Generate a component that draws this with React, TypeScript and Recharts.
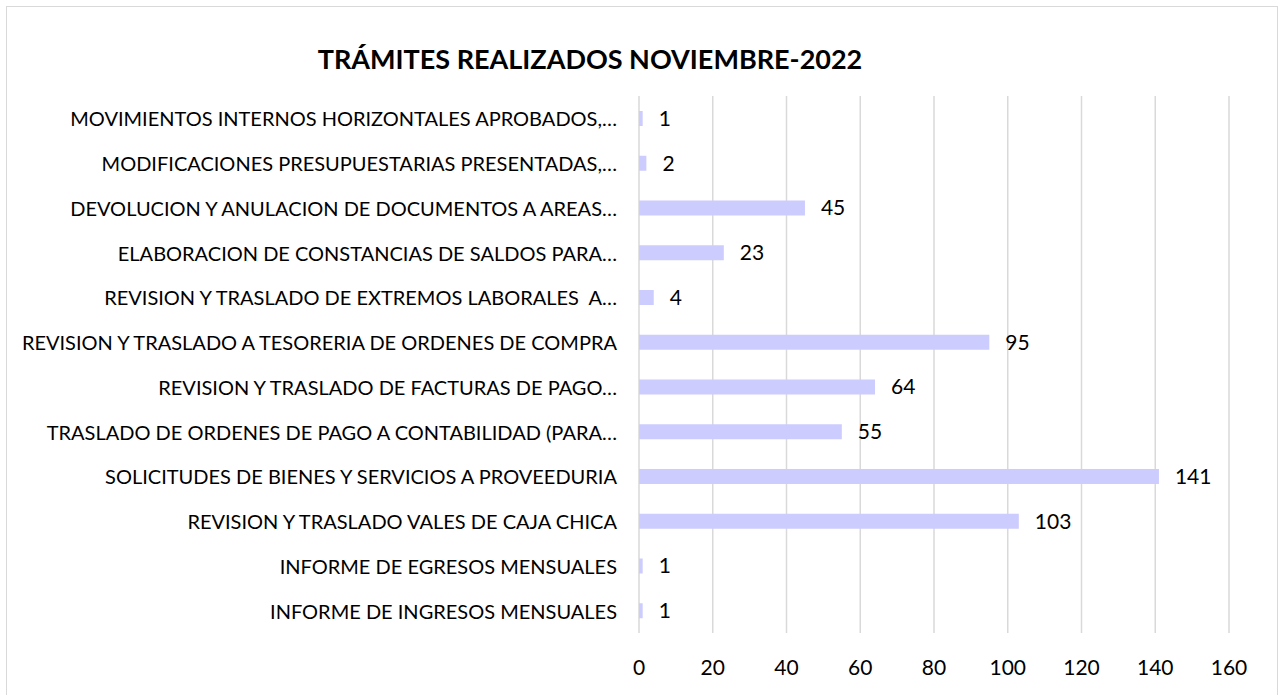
import { BarChart, Bar, XAxis, YAxis, CartesianGrid, LabelList } from 'recharts';

const categories = [
  'MOVIMIENTOS INTERNOS HORIZONTALES APROBADOS,…',
  'MODIFICACIONES PRESUPUESTARIAS PRESENTADAS,…',
  'DEVOLUCION Y ANULACION DE DOCUMENTOS A AREAS…',
  'ELABORACION DE CONSTANCIAS DE SALDOS PARA…',
  'REVISION Y TRASLADO DE EXTREMOS LABORALES  A…',
  'REVISION Y TRASLADO A TESORERIA DE ORDENES DE COMPRA',
  'REVISION Y TRASLADO DE FACTURAS DE PAGO…',
  'TRASLADO DE ORDENES DE PAGO A CONTABILIDAD (PARA…',
  'SOLICITUDES DE BIENES Y SERVICIOS A PROVEEDURIA',
  'REVISION Y TRASLADO VALES DE CAJA CHICA',
  'INFORME DE EGRESOS MENSUALES',
  'INFORME DE INGRESOS MENSUALES',
];

const tramites = [1, 2, 45, 23, 4, 95, 64, 55, 141, 103, 1, 1];

const xTicks = [0, 20, 40, 60, 80, 100, 120, 140, 160];

const data = categories.map((name, i) => ({ name, value: tramites[i] }));

const FONT = 'Lato, "Open Sans", sans-serif';

const CategoryTick = ({ x, y, payload }: { x?: number; y?: number; payload?: { value: string } }) => (
  <text
    x={x}
    y={y}
    textAnchor="end"
    dominantBaseline="central"
    fontFamily={FONT}
    fontSize={20}
    fill="#000"
    style={{ whiteSpace: 'pre' }}
  >
    {payload?.value}
  </text>
);

const NumberTick = ({ x, y, payload }: { x?: number; y?: number; payload?: { value: number } }) => (
  <text x={x} y={(y ?? 0) + 42} textAnchor="middle" fontFamily={FONT} fontSize={21} fill="#000">
    {payload?.value}
  </text>
);

export default function App() {
  return (
    <div
      style={{
        position: 'absolute',
        left: 0,
        top: 0,
        width: 1284,
        height: 695,
        background: '#fff',
        overflow: 'hidden',
      }}
    >
      <div
        style={{
          position: 'absolute',
          left: 6,
          top: 6,
          width: 1270,
          height: 700,
          border: '1.5px solid #d9d9d9',
        }}
      />
      <svg
        width={1284}
        height={80}
        style={{ position: 'absolute', left: 0, top: 0 }}
      >
        <text
          x={590}
          y={58}
          textAnchor="middle"
          dominantBaseline="central"
          fontFamily={FONT}
          fontWeight={700}
          fontSize={27}
          fill="#000"
        >
          TRÁMITES REALIZADOS NOVIEMBRE-2022
        </text>
      </svg>
      <div style={{ position: 'absolute', left: 0, top: 0 }}>
        <BarChart
          width={1284}
          height={695}
          data={data}
          layout="vertical"
          margin={{ top: 96, right: 55, bottom: 32, left: 0 }}
        >
          <CartesianGrid horizontal={false} stroke="#d9d9d9" strokeWidth={1.5} />
          <XAxis
            type="number"
            domain={[0, 160]}
            ticks={xTicks}
            axisLine={false}
            tickLine={false}
            tickSize={0}
            tickMargin={0}
            height={30}
            tick={<NumberTick />}
            interval={0}
          />
          <YAxis
            type="category"
            dataKey="name"
            width={639}
            axisLine={false}
            tickLine={false}
            tickSize={0}
            tickMargin={22}
            tick={<CategoryTick />}
            interval={0}
          />
          <Bar dataKey="value" fill="#ccccff" barSize={15} isAnimationActive={false}>
            <LabelList
              dataKey="value"
              position="right"
              offset={16}
              fill="#000"
              fontSize={21}
              fontFamily={FONT}
            />
          </Bar>
        </BarChart>
      </div>
    </div>
  );
}
